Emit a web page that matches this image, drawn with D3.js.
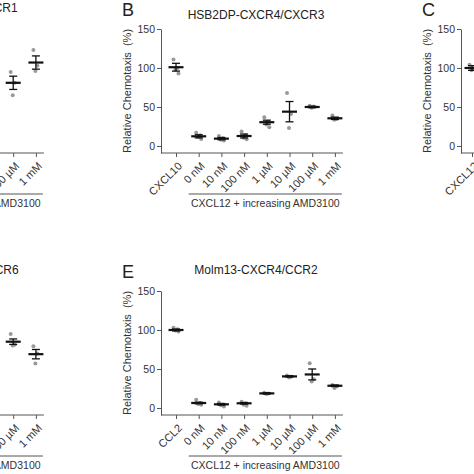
<!DOCTYPE html>
<html>
<head>
<meta charset="utf-8">
<script src="https://cdn.jsdelivr.net/npm/d3@7"></script>
<style>
  html, body { margin: 0; padding: 0; background: #fff; }
  svg { display: block; font-family: "Liberation Sans", Arial, sans-serif; }
</style>
</head>
<body>
<svg id="chart" width="474" height="474"></svg>
<script>
// ---------- data ----------
const concLabels = ["0 nM", "10 nM", "100 nM", "1 µM", "10 µM", "100 µM", "1 mM"];
const yTicks = [0, 50, 100, 150];
const groupLabel = "CXCL12 + increasing AMD3100";

const titleA = "Jurkat-CXCR4/CXCR1";
const categoriesA = ["CXCL8"].concat(concLabels);
const meansA = [null, null, null, null, null, null, 81, 107];
const semA = [null, null, null, null, null, null, 8.5, 8.5];
const pointsA = [[], [], [], [], [], [], [95, 81, 65], [123, 103, 96]];

const titleB = "HSB2DP-CXCR4/CXCR3";
const categoriesB = ["CXCL10"].concat(concLabels);
const meansB = [101, 12.4, 9.4, 12.8, 30.5, 44, 50, 35.5];
const semB = [5, 2, 1.5, 2.5, 2.6, 13, 1, 1.5];
const pointsB = [[111, 100, 98, 93], [17, 13.6, 11.5, 9], [12.8, 10, 8, 7], [18.7, 13.6, 10.6, 8.5],
                 [37, 30.7, 27.7, 24], [68, 41, 23], [51.5, 50.7, 49], [39, 34.5, 33.6]];

const titleC = "";
const categoriesC = ["CXCL12"].concat(concLabels);
const meansC = [100, null, null, null, null, null, null, null];
const semC = [3, null, null, null, null, null, null, null];
const pointsC = [[104, 99, 97], [], [], [], [], [], [], []];

const titleD = "Molm13-CXCR4/CCR6";
const categoriesD = ["CCL20"].concat(concLabels);
const meansD = [null, null, null, null, null, null, 85, 69];
const semD = [null, null, null, null, null, null, 3.5, 6];
const pointsD = [[], [], [], [], [], [], [95, 81, 80], [79, 70, 57]];

const titleE = "Molm13-CXCR4/CCR2";
const categoriesE = ["CCL2"].concat(concLabels);
const meansE = [100, 6.4, 4.7, 6, 18.7, 40.5, 43, 28.5];
const semE = [1.2, 1, 1, 1, 0.8, 0.8, 7, 1];
const pointsE = [[103, 101, 99.5, 98], [10.6, 6.5, 5, 4.3], [7, 4.5, 3.4, 2], [8, 6, 4.3, 3],
                 [19.5, 18.7, 18], [41.8, 40, 39], [57.5, 37, 34], [29.4, 27.7, 25.6]];

// ---------- layout ----------
const panels = [
  { letter: "",  title: titleA, cats: categoriesA, means: meansA, sem: semA, pts: pointsA, dx: -299, dy: 0,   catStart: 176, titleY: 12 },
  { letter: "B", title: titleB, cats: categoriesB, means: meansB, sem: semB, pts: pointsB, dx: 0,    dy: 0,   catStart: 176, titleY: 19 },
  { letter: "C", title: titleC, cats: categoriesC, means: meansC, sem: semC, pts: pointsC, dx: 300,  dy: 0,   catStart: 172, titleY: 19 },
  { letter: "",  title: titleD, cats: categoriesD, means: meansD, sem: semD, pts: pointsD, dx: -299, dy: 262, catStart: 176, titleY: 12 },
  { letter: "E", title: titleE, cats: categoriesE, means: meansE, sem: semE, pts: pointsE, dx: 0,    dy: 262, catStart: 176, titleY: 12 }
];

const svg = d3.select("#chart");
const W = 474, H = 474;
const axisColor = "#555";
const textColor = "#333";
const step = 22.7;
const jitter = [-2.5, 1.5, -0.5, 2.5, -1.5];

panels.forEach(p => {
  const g = svg.append("g").attr("transform", `translate(${p.dx},${p.dy})`);
  const axisX = 161, axisY = 153;
  const y = d3.scaleLinear().domain([-9, 150]).range([axisY, 29]);
  const catEnd = p.catStart + step * (p.cats.length - 1);
  const x = d3.scalePoint().domain(p.cats).range([p.catStart, catEnd]);

  // y axis
  const ya = g.append("g").attr("transform", `translate(${axisX},0)`)
    .call(d3.axisLeft(y).tickValues(yTicks).tickSize(4).tickPadding(2).tickSizeOuter(0));
  ya.select(".domain").attr("stroke", axisColor);
  ya.selectAll(".tick line").attr("stroke", axisColor);
  ya.selectAll(".tick text").attr("fill", textColor).style("font-size", "10.5px")
    .style("font-family", "'Liberation Sans', Arial, sans-serif");

  // x axis
  const xa = g.append("g").attr("transform", `translate(0,${axisY})`)
    .call(d3.axisBottom(x).tickSize(4).tickSizeOuter(0).tickFormat(""));
  xa.select(".domain").remove();
  xa.selectAll(".tick line").attr("stroke", axisColor);
  g.append("line").attr("x1", axisX).attr("x2", catEnd + 8)
    .attr("y1", axisY).attr("y2", axisY).attr("stroke", axisColor);

  // rotated category labels
  g.selectAll("text.cat").data(p.cats).enter().append("text")
    .attr("class", "cat")
    .attr("transform", d => `translate(${x(d) + 4},${axisY + 11}) rotate(-45)`)
    .attr("text-anchor", "end").attr("dy", "0.35em")
    .attr("fill", textColor).style("font-size", "11px")
    .text(d => d);

  // group bracket
  g.append("line").attr("x1", x(p.cats[1]) - 10).attr("x2", catEnd + 7)
    .attr("y1", 194).attr("y2", 194).attr("stroke", axisColor);
  g.append("text").attr("x", (x(p.cats[1]) - 10 + catEnd + 7) / 2).attr("y", 207)
    .attr("text-anchor", "middle").attr("fill", textColor).style("font-size", "10.5px")
    .text(groupLabel);

  // y label
  g.append("text")
    .attr("transform", `translate(131,${(29 + axisY) / 2}) rotate(-90)`)
    .attr("text-anchor", "middle").attr("fill", textColor).style("font-size", "11px")
    .style("white-space", "pre")
    .text("Relative Chemotaxis  (%)");

  // title
  if (p.title) {
    g.append("text").attr("x", 256).attr("y", p.titleY).attr("text-anchor", "middle")
      .attr("fill", "#222").style("font-size", "12px").text(p.title);
  }
  // panel letter
  if (p.letter) {
    g.append("text").attr("x", 122).attr("y", 16)
      .attr("fill", "#222").style("font-size", "18px").text(p.letter);
  }

  // points, means and SEM bars
  p.cats.forEach((c, i) => {
    const vals = p.pts[i];
    vals.forEach((v, j) => {
      g.append("circle").attr("cx", x(c) + jitter[j % jitter.length]).attr("cy", y(v))
        .attr("r", 2).attr("fill", "#9a9a9a");
    });
    if (p.means[i] != null) {
      const m = p.means[i], s = p.sem[i];
      g.append("line").attr("x1", x(c)).attr("x2", x(c))
        .attr("y1", y(m - s)).attr("y2", y(m + s)).attr("stroke", "#111").attr("stroke-width", 1.3);
      [m - s, m + s].forEach(v => {
        g.append("line").attr("x1", x(c) - 4).attr("x2", x(c) + 4)
          .attr("y1", y(v)).attr("y2", y(v)).attr("stroke", "#111").attr("stroke-width", 1.3);
      });
      g.append("line").attr("x1", x(c) - 7.5).attr("x2", x(c) + 7.5)
        .attr("y1", y(m)).attr("y2", y(m)).attr("stroke", "#111").attr("stroke-width", 2.2);
    }
  });
});

// drop texts that lie entirely outside the visible frame (the reference is a crop)
svg.selectAll("text").each(function () {
  const r = this.getBoundingClientRect();
  if (r.right <= 0 || r.left >= W || r.bottom <= 0 || r.top >= H) d3.select(this).remove();
});
</script>
</body>
</html>
